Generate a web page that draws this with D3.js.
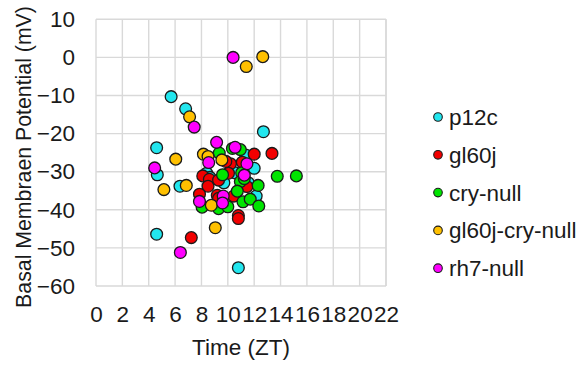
<!DOCTYPE html>
<html>
<head>
<meta charset="utf-8">
<script src="https://cdn.jsdelivr.net/npm/d3@7"></script>
<style>
  html, body { margin: 0; padding: 0; background: #fff; }
  svg { display: block; font-family: "Liberation Sans", Arial, sans-serif; }
</style>
</head>
<body>
<svg id="chart" width="587" height="371"></svg>
<script>
// Genotype groups and their marker colours
const seriesNames = ["p12c", "gl60j", "cry-null", "gl60j-cry-null", "rh7-null"];
const seriesColors = ["#22e6ee", "#f20000", "#00e400", "#ffc000", "#ff00ff"];

// Recording time (ZT) and basal membrane potential (mV) per cell
const p12cTime = [5.7, 6.8, 12.7, 4.6, 4.65, 6.37, 4.6, 10.8, 11.35, 12.0, 8.4, 8.65, 9.7, 10.55, 11.55, 12.15];
const p12cMv   = [-10.3, -13.5, -19.5, -23.7, -30.8, -33.8, -46.4, -55.2, -25.6, -29.1, -30.4, -31.5, -32.9, -30.3, -32.9, -36.4];

const gl60jTime = [7.23, 10.8, 10.8, 12.0, 13.35, 11.1, 10.2, 9.85, 8.1, 8.6, 8.5, 9.3, 10.05, 11.45, 7.85, 9.2, 10.45, 9.3];
const gl60jMv   = [-47.3, -41.5, -42.3, -25.4, -25.2, -27.5, -27.9, -27.3, -31.1, -32.0, -33.8, -32.2, -30.4, -33.9, -35.9, -36.2, -36.4, -37.0];

const cryTime = [9.35, 10.35, 10.95, 9.6, 11.05, 10.95, 10.72, 12.3, 8.05, 9.3, 10.0, 11.15, 11.7, 12.35, 13.75, 15.2, 11.25];
const cryMv   = [-25.1, -23.9, -24.2, -30.8, -30.3, -32.6, -35.1, -33.6, -39.3, -39.7, -39.2, -37.9, -37.2, -39.0, -31.2, -31.1, -31.8];

const gcTime = [11.4, 12.65, 7.1, 6.05, 5.15, 6.85, 9.05, 8.15, 8.5, 9.55, 8.75];
const gcMv   = [-2.4, 0.2, -15.6, -26.7, -34.7, -33.6, -44.7, -25.4, -26.0, -26.9, -38.8];

const rh7Time = [10.4, 7.45, 9.15, 4.45, 6.4, 10.55, 8.55, 11.45, 11.25, 7.85, 9.65, 9.6];
const rh7Mv   = [0.0, -18.3, -22.3, -29.0, -51.2, -23.6, -27.6, -27.9, -30.9, -37.8, -36.4, -38.2];

// Axis ticks
const xTicks = [0, 2, 4, 6, 8, 10, 12, 14, 16, 18, 20, 22];
const yTicks = [10, 0, -10, -20, -30, -40, -50, -60];

const seriesData = [
  [p12cTime, p12cMv],
  [gl60jTime, gl60jMv],
  [cryTime, cryMv],
  [gcTime, gcMv],
  [rh7Time, rh7Mv]
].map(([t, v], i) => ({
  name: seriesNames[i],
  color: seriesColors[i],
  points: t.map((x, j) => ({ x, y: v[j] }))
}));

const FONT = 22.5;
const svg = d3.select("#chart");
const plot = { left: 96, right: 386, top: 19.3, bottom: 286 };

const x = d3.scaleLinear().domain([0, 22]).range([plot.left, plot.right]);
const y = d3.scaleLinear().domain([-60, 10]).range([plot.bottom, plot.top]);

// Grid
const grid = svg.append("g").attr("stroke", "#d9d9d9").attr("stroke-width", 1.4);
grid.selectAll("line.v").data(xTicks).join("line")
  .attr("x1", d => x(d)).attr("x2", d => x(d))
  .attr("y1", plot.top).attr("y2", plot.bottom);
grid.append("line")
  .attr("x1", x(22)).attr("x2", x(22))
  .attr("y1", plot.top).attr("y2", plot.bottom);
grid.selectAll("line.h").data(yTicks).join("line")
  .attr("x1", plot.left).attr("x2", plot.right)
  .attr("y1", d => y(d)).attr("y2", d => y(d));

// Axes (labels only, the grid acts as the frame)
const xAxis = d3.axisBottom(x).tickValues(xTicks).tickSize(0).tickPadding(20);
const gx = svg.append("g").attr("transform", `translate(0,${plot.bottom})`).call(xAxis);
gx.select(".domain").remove();
gx.selectAll("text").attr("font-size", FONT).attr("fill", "#1a1a1a")
  .attr("font-family", "Liberation Sans, Arial, sans-serif");

const yAxis = d3.axisLeft(y).tickValues(yTicks).tickSize(0).tickPadding(21);
const gy = svg.append("g").attr("transform", `translate(${plot.left},0)`).call(yAxis);
gy.select(".domain").remove();
gy.selectAll("text").attr("font-size", FONT).attr("fill", "#1a1a1a")
  .attr("font-family", "Liberation Sans, Arial, sans-serif");

// Axis titles
svg.append("text")
  .attr("x", (plot.left + plot.right) / 2).attr("y", 355)
  .attr("text-anchor", "middle").attr("font-size", FONT).attr("fill", "#1a1a1a")
  .text("Time (ZT)");
svg.append("text")
  .attr("transform", "translate(31,157) rotate(-90)")
  .attr("text-anchor", "middle").attr("font-size", 21.3).attr("fill", "#1a1a1a")
  .text("Basal Membraen Potential (mV)");

// Points
seriesData.forEach(s => {
  svg.append("g").selectAll("circle").data(s.points).join("circle")
    .attr("cx", d => x(d.x)).attr("cy", d => y(d.y)).attr("r", 5.9)
    .attr("fill", s.color).attr("stroke", "#1a1a1a").attr("stroke-width", 1.3);
});

// Legend
const legend = svg.append("g");
seriesData.forEach((s, i) => {
  const cy = 117 + i * 37.8;
  legend.append("circle").attr("cx", 438).attr("cy", cy).attr("r", 4.3)
    .attr("fill", s.color).attr("stroke", "#1a1a1a").attr("stroke-width", 1.1);
  legend.append("text").attr("x", 449).attr("y", cy + 8)
    .attr("font-size", FONT).attr("fill", "#1a1a1a").text(s.name);
});
</script>
</body>
</html>
